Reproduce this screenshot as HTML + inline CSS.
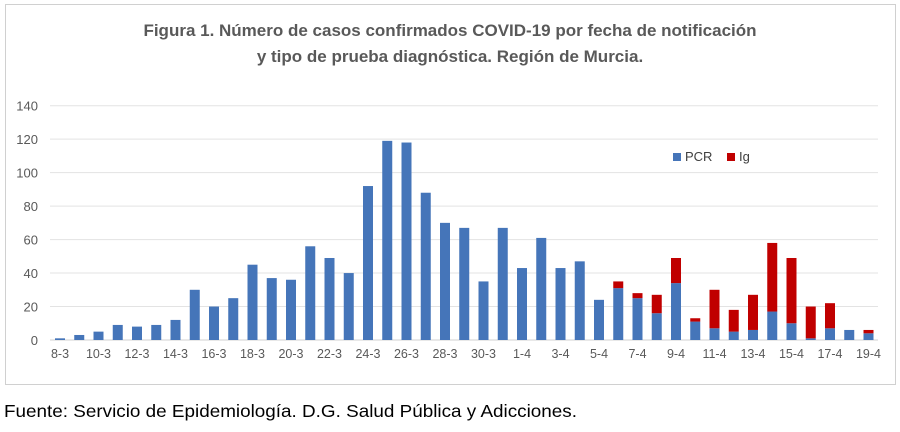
<!DOCTYPE html>
<html><head><meta charset="utf-8"><style>
body{margin:0;background:#fff;width:900px;height:427px;overflow:hidden;font-family:"Liberation Sans",sans-serif}
</style></head><body>
<svg id="s" width="900" height="427" xmlns="http://www.w3.org/2000/svg" font-family="Liberation Sans, sans-serif">
<rect x="5.5" y="4.5" width="890" height="380" fill="#fff" stroke="#d0d0d0"/>
<text x="450" y="36" text-anchor="middle" font-size="17" font-weight="bold" fill="#595959">Figura 1. Número de casos confirmados COVID-19 por fecha de notificación</text>
<text x="450" y="62" text-anchor="middle" font-size="17" font-weight="bold" fill="#595959">y tipo de prueba diagnóstica. Región de Murcia.</text>
<g id="grid"></g>
<g id="bars"></g>
<g id="lab" font-size="12" fill="#595959"></g>
<rect x="673" y="153" width="8" height="8" fill="#4575b9"/>
<text x="685" y="161" font-size="13" fill="#404040">PCR</text>
<rect x="727" y="153" width="8" height="8" fill="#c00000"/>
<text x="739" y="161" font-size="13" fill="#404040">Ig</text>
<text x="4" y="417" font-size="17.5" fill="#000" textLength="573" lengthAdjust="spacingAndGlyphs">Fuente: Servicio de Epidemiología. D.G. Salud Pública y Adicciones.</text>
</svg>
<script>
var ns="http://www.w3.org/2000/svg";
function el(t,a,p,txt){var e=document.createElementNS(ns,t);for(var k in a)e.setAttribute(k,a[k]);if(txt!==undefined)e.textContent=txt;document.getElementById(p).appendChild(e);}
var y0=340,k=33.47/20;
for(var v=0;v<=140;v+=20){var y=y0-v*k;el("line",{x1:50,x2:878,y1:y,y2:y,stroke:v?"#e3e3e3":"#d0d0d0","stroke-width":1},"grid");el("text",{x:38,y:y+5,"text-anchor":"end","font-size":13},"lab",String(v));}
var pcr=[1,3,5,9,8,9,12,30,20,25,45,37,36,56,49,40,92,119,118,88,70,67,35,67,43,61,43,47,24,31,25,16,34,11,7,5,6,17,10,1,7,6,4];
var ig=[0,0,0,0,0,0,0,0,0,0,0,0,0,0,0,0,0,0,0,0,0,0,0,0,0,0,0,0,0,4,3,11,15,2,23,13,21,41,39,19,15,0,2];
var lbl=["8-3","10-3","12-3","14-3","16-3","18-3","20-3","22-3","24-3","26-3","28-3","30-3","1-4","3-4","5-4","7-4","9-4","11-4","13-4","15-4","17-4","19-4"];
var p=19.25,x0=60,w=10;
for(var i=0;i<43;i++){var cx=x0+i*p;
el("rect",{x:cx-w/2,y:y0-pcr[i]*k,width:w,height:pcr[i]*k,fill:"#4575b9"},"bars");
if(ig[i])el("rect",{x:cx-w/2,y:y0-(pcr[i]+ig[i])*k,width:w,height:ig[i]*k,fill:"#c00000"},"bars");
if(i%2==0)el("text",{x:cx,y:358,"text-anchor":"middle","font-size":12.5},"lab",lbl[i/2]);
}
</script>
</body></html>
